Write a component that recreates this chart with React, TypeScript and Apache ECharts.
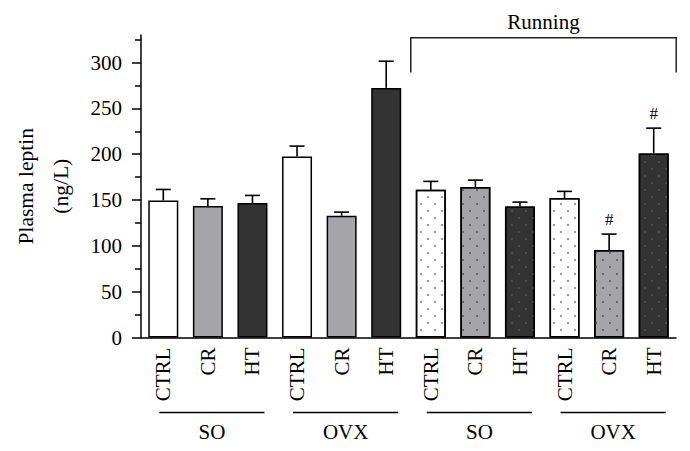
import React, { useEffect, useRef } from 'react';
import * as echarts from 'echarts';

const categories = ['CTRL', 'CR', 'HT', 'CTRL', 'CR', 'HT', 'CTRL', 'CR', 'HT', 'CTRL', 'CR', 'HT'];
const means = [149.5, 143.4, 146.6, 197.5, 132.8, 272.3, 161.1, 164.1, 143.0, 152.1, 95.4, 200.8];
const sems = [12.0, 7.9, 8.4, 11.3, 4.0, 29.1, 9.2, 7.6, 4.7, 7.3, 17.4, 27.6];
const significant = [false, false, false, false, false, false, false, false, false, false, true, true];
const groupLabels = ['SO', 'OVX', 'SO', 'OVX'];
const runningFlags = [false, false, false, false, false, false, true, true, true, true, true, true];
const bracketLabel = 'Running';
const majorTicks = [0, 50, 100, 150, 200, 250, 300];
const minorTicks = [25, 75, 125, 175, 225, 275, 325];
const yName = 'Plasma leptin\n(ng/L)';

const GROUP_SIZE = 3;
const fillColors = ['#ffffff', '#a4a4a9', '#333333'];
const dotColors = ['#9a9a9a', '#696969', '#4a4a4a'];
const FONT = '"Liberation Serif", "Times New Roman", serif';

export default function App() {
  const ref = useRef<HTMLDivElement>(null);

  useEffect(() => {
    if (!ref.current) return;
    const chart = echarts.init(ref.current, undefined, { renderer: 'svg' });

    const barData = means.map((v, i) => {
      const k = i % GROUP_SIZE;
      const item: any = {
        value: v,
        itemStyle: {
          color: fillColors[k],
          borderColor: '#000',
          borderWidth: 1.5,
        },
      };
      if (runningFlags[i]) {
        item.itemStyle.decal = {
          symbol: 'rect',
          symbolSize: 1,
          color: dotColors[k],
          dashArrayX: [[1.6, 11.4], [0, 6.5, 1.6, 4.9]],
          dashArrayY: [1.6, 4.4],
          rotation: 0,
        };
      }
      return item;
    });

    const errData = means.map((v, i) => [i, v, sems[i], significant[i] ? 1 : 0]);

    chart.setOption({
      animation: false,
      grid: { left: 136, right: 14, top: 35, bottom: 113.5, containLabel: false },
      xAxis: {
        type: 'category',
        data: categories,
        axisLine: { show: true, lineStyle: { color: '#000', width: 1.5 } },
        axisTick: { show: false },
        axisLabel: {
          rotate: 90,
          margin: 10,
          color: '#000',
          fontSize: 21,
          fontFamily: FONT,
          interval: 0,
        },
      },
      yAxis: [
        {
          type: 'value',
          min: 0,
          max: 330,
          interval: 50,
          position: 'left',
          name: yName,
          nameLocation: 'middle',
          nameGap: 63,
          nameRotate: 90,
          nameTextStyle: { color: '#000', fontSize: 21.5, fontFamily: FONT, lineHeight: 35 },
          axisLine: { show: true, lineStyle: { color: '#000', width: 1.5 } },
          axisTick: { show: true, length: 9, lineStyle: { color: '#000', width: 1.5 }, customValues: majorTicks },
          axisLabel: { color: '#000', fontSize: 21, fontFamily: FONT, margin: 19, customValues: majorTicks },
          splitLine: { show: false },
        },
        {
          type: 'value',
          min: 0,
          max: 330,
          interval: 50,
          position: 'left',
          offset: 0,
          axisLine: { show: false },
          axisTick: { show: true, length: 6, lineStyle: { color: '#000', width: 1.5 }, customValues: minorTicks },
          axisLabel: { show: false },
          splitLine: { show: false },
        },
      ],
      series: [
        {
          type: 'bar',
          data: barData,
          barWidth: 30,
          z: 2,
        },
        {
          type: 'custom',
          data: errData,
          encode: { x: 0, y: 1 },
          z: 3,
          renderItem: (params: any, api: any) => {
            const x = api.value(0);
            const m = api.value(1);
            const e = api.value(2);
            const sig = api.value(3);
            const p0 = api.coord([x, m]);
            const p1 = api.coord([x, m + e]);
            const half = 7.5;
            const children: any[] = [
              { type: 'line', shape: { x1: p0[0], y1: p0[1], x2: p1[0], y2: p1[1] }, style: { stroke: '#000', lineWidth: 1.6 } },
              { type: 'line', shape: { x1: p1[0] - half, y1: p1[1], x2: p1[0] + half, y2: p1[1] }, style: { stroke: '#000', lineWidth: 1.6 } },
            ];
            if (sig) {
              children.push({
                type: 'text',
                x: p1[0],
                y: p1[1] - 15,
                style: { text: '#', fill: '#000', font: `17px ${FONT}`, align: 'center', verticalAlign: 'middle' },
              });
            }
            return { type: 'group', children };
          },
        },
      ],
    });

    const px = (i: number) => (chart.convertToPixel({ gridIndex: 0 }, [i, 0]) as number[])[0];
    const py = (v: number) => (chart.convertToPixel({ gridIndex: 0 }, [0, v]) as number[])[1];
    const y0 = py(0);
    const graphics: any[] = [];
    groupLabels.forEach((label, g) => {
      const a = px(g * GROUP_SIZE) - 4;
      const b = px(g * GROUP_SIZE + GROUP_SIZE - 1) + 12;
      graphics.push({
        type: 'line',
        shape: { x1: a, y1: y0 + 75, x2: b, y2: y0 + 75 },
        style: { stroke: '#000', lineWidth: 1.5 },
      });
      graphics.push({
        type: 'text',
        x: (a + b) / 2,
        y: y0 + 94,
        style: { text: label, fill: '#000', font: `21px ${FONT}`, align: 'center', verticalAlign: 'middle' },
      });
    });
    const first = runningFlags.indexOf(true);
    const last = runningFlags.lastIndexOf(true);
    const left = px(first) - 20;
    const right = px(last) + 22.5;
    const top = py(327);
    const bottom = py(289);
    graphics.push({
      type: 'polyline',
      shape: { points: [[left, bottom], [left, top], [right, top], [right, bottom]] },
      style: { stroke: '#222', lineWidth: 1.5, fill: 'none' },
    });
    graphics.push({
      type: 'text',
      x: (left + right) / 2,
      y: top - 16,
      style: { text: bracketLabel, fill: '#000', font: `21px ${FONT}`, align: 'center', verticalAlign: 'middle' },
    });
    chart.setOption({ graphic: graphics });

    return () => chart.dispose();
  }, []);

  return (
    <div
      ref={ref}
      style={{ position: 'fixed', left: 0, top: 0, width: 690, height: 451, background: '#fff' }}
    />
  );
}
